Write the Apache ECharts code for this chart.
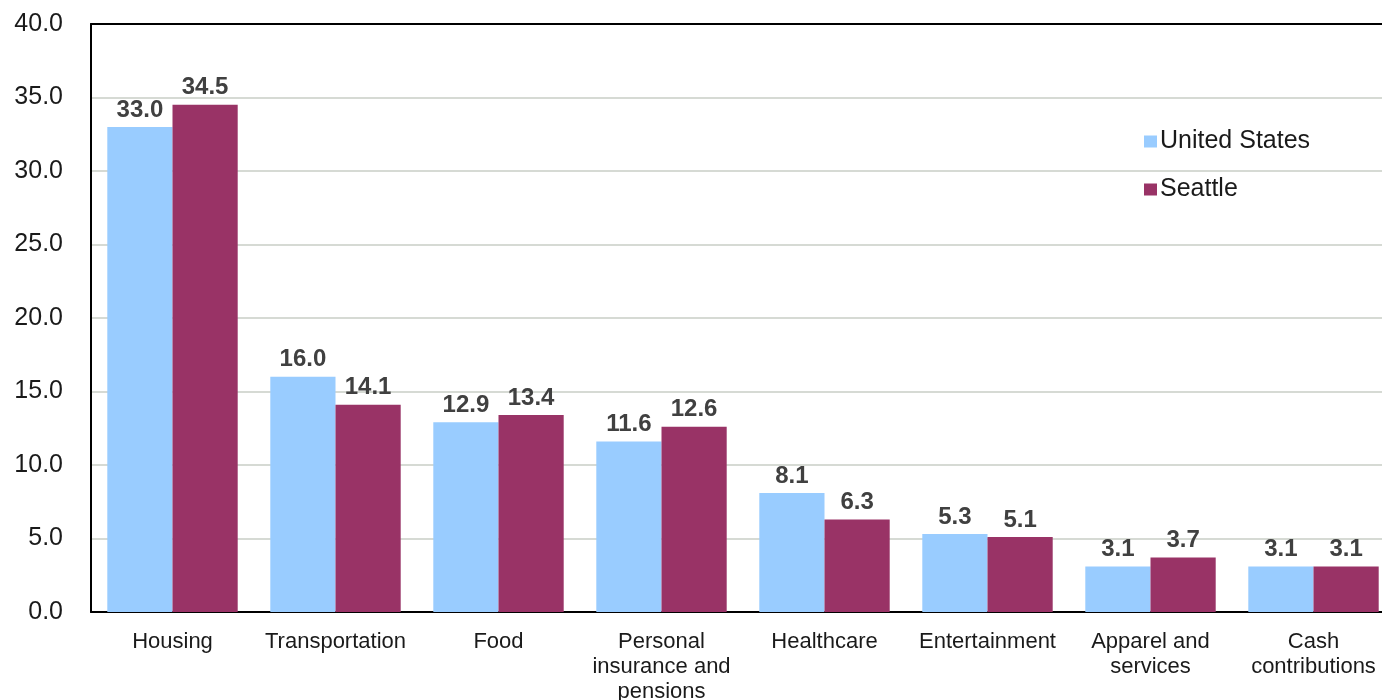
<!DOCTYPE html>
<html>
<head>
<meta charset="utf-8">
<script src="https://cdn.jsdelivr.net/npm/echarts@6/dist/echarts.min.js"></script>
<style>
html,body{margin:0;padding:0;background:#fff;overflow:hidden;width:1382px;height:700px;}
#chart{width:1395px;height:700px;}
</style>
</head>
<body>
<div id="chart"></div>
<script>
const categories = ["Housing", "Transportation", "Food", "Personal\ninsurance and\npensions", "Healthcare", "Entertainment", "Apparel and\nservices", "Cash\ncontributions"];
const seriesNames = ["United States", "Seattle"];
const usValues = [33.0, 16.0, 12.9, 11.6, 8.1, 5.3, 3.1, 3.1];
const seattleValues = [34.5, 14.1, 13.4, 12.6, 6.3, 5.1, 3.7, 3.1];

const chart = echarts.init(document.getElementById('chart'));
const font = 'Liberation Sans, Arial, sans-serif';
const labelCfg = {
  show: true, position: 'top', distance: 5,
  formatter: p => p.value.toFixed(1),
  fontFamily: font, fontSize: 24, fontWeight: 'bold', color: '#404040'
};
chart.setOption({
  animation: false,
  backgroundColor: '#fff',
  grid: { left: 91, top: 24, right: 0, bottom: 88, show: false, containLabel: false, outerBoundsMode: 'none' },
  legend: {
    orient: 'vertical', left: 1139, top: 124, itemGap: 23,
    itemWidth: 13, itemHeight: 12, icon: 'rect',
    textStyle: { fontFamily: font, fontSize: 25, lineHeight: 25, color: '#1a1a1a', padding: [0,0,0,-2] },
    data: seriesNames
  },
  xAxis: [{
    type: 'category', data: categories,
    axisLine: { show: true, lineStyle: { color: '#000', width: 2 } },
    axisTick: { show: false },
    axisLabel: { interval: 0, fontFamily: font, fontSize: 22, color: '#1a1a1a', lineHeight: 25, margin: 17 }
  }, {
    type: 'category', data: categories, position: 'top',
    axisLine: { show: true, lineStyle: { color: '#000', width: 2 } },
    axisTick: { show: false },
    axisLabel: { show: false }
  }],
  yAxis: {
    type: 'value', min: 0, max: 40, interval: 5,
    axisLine: { show: true, lineStyle: { color: '#000', width: 2 } },
    axisTick: { show: false },
    splitLine: { lineStyle: { color: '#d6dad4', width: 2 } },
    axisLabel: { formatter: v => v.toFixed(1), fontFamily: font, fontSize: 25, color: '#1a1a1a', margin: 28 }
  },
  series: [
    { name: seriesNames[0], type: 'bar', data: usValues, barGap: '0%', barCategoryGap: '20%',
      itemStyle: { color: '#99ccff' }, label: labelCfg },
    { name: seriesNames[1], type: 'bar', data: seattleValues,
      itemStyle: { color: '#993366' }, label: labelCfg }
  ]
});
</script>
</body>
</html>
